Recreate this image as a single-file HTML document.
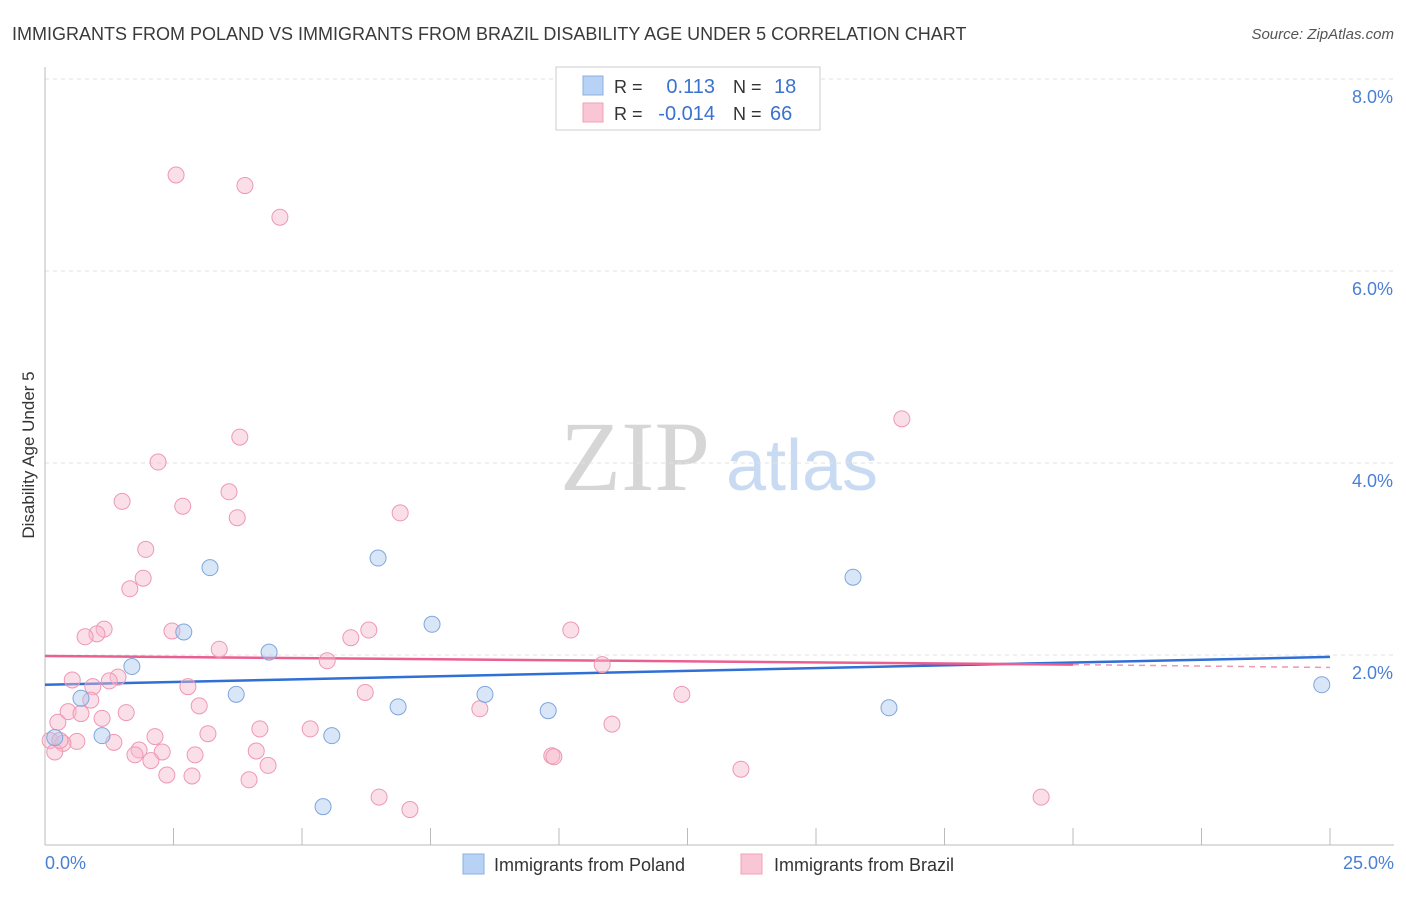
<!DOCTYPE html>
<html><head><meta charset="utf-8"><style>
body{margin:0;background:#fff;font-family:"Liberation Sans",sans-serif;}
svg text{font-family:"Liberation Sans",sans-serif;}
svg text.serif{font-family:"Liberation Serif",serif;}
</style></head><body>
<svg id="chart" width="1406" height="892" viewBox="0 0 1406 892" xmlns="http://www.w3.org/2000/svg">
<text x="12" y="40" font-size="18" fill="#3a3a3a">IMMIGRANTS FROM POLAND VS IMMIGRANTS FROM BRAZIL DISABILITY AGE UNDER 5 CORRELATION CHART</text>
<text x="1394" y="39" font-size="15" fill="#555" font-style="italic" text-anchor="end">Source: ZipAtlas.com</text>
<g>
<text class="serif" x="635" y="490" font-size="100" fill="#d6d6d6" text-anchor="middle">ZIP</text>
<text x="802" y="490" font-size="72" fill="#c9dbf2" text-anchor="middle">atlas</text>
</g>
<g id="grid"></g>
<g id="axes"></g>
<g id="lines"></g>
<g id="points"></g>
<text transform="translate(34,455) rotate(-90)" font-size="17" fill="#333" text-anchor="middle">Disability Age Under 5</text>
<text x="45" y="869" font-size="18" fill="#4a7fd4">0.0%</text>
<text x="1394" y="869" font-size="18" fill="#4a7fd4" text-anchor="end">25.0%</text>
<g>
<rect x="556" y="67" width="264" height="63" fill="#fff" stroke="#ccc"/>
<rect x="583" y="76" width="20" height="19" fill="#b8d2f5" stroke="#8ab0e0"/>
<rect x="583" y="103" width="20" height="19" fill="#f9c6d5" stroke="#f0a0b8"/>
<text x="614" y="93" font-size="18" fill="#333">R =</text>
<text x="715" y="93" font-size="20" fill="#3a72d0" text-anchor="end">0.113</text>
<text x="733" y="93" font-size="18" fill="#333">N =</text>
<text x="774" y="93" font-size="20" fill="#3a72d0">18</text>
<text x="614" y="120" font-size="18" fill="#333">R =</text>
<text x="715" y="120" font-size="20" fill="#3a72d0" text-anchor="end">-0.014</text>
<text x="733" y="120" font-size="18" fill="#333">N =</text>
<text x="770" y="120" font-size="20" fill="#3a72d0">66</text>
</g>
<g>
<rect x="463" y="854" width="21" height="20" fill="#b8d2f5" stroke="#8ab0e0"/>
<text x="494" y="871" font-size="18" fill="#333">Immigrants from Poland</text>
<rect x="741" y="854" width="21" height="20" fill="#f9c6d5" stroke="#f0a0b8"/>
<text x="774" y="871" font-size="18" fill="#333">Immigrants from Brazil</text>
</g>
</svg>
<script>
const yTicks=[2,4,6,8];
const yTickLabels=["2.0%","4.0%","6.0%","8.0%"];
const xTicks=[0,2.5,5,7.5,10,12.5,15,17.5,20,22.5,25];
const polandX=[0.70,1.11,1.69,2.70,3.21,3.72,4.36,5.41,5.58,6.48,6.87,7.53,8.56,9.79,15.72,16.42,24.84,0.19];
const polandY=[1.55,1.16,1.88,2.24,2.91,1.59,2.03,0.42,1.16,3.01,1.46,2.32,1.59,1.42,2.81,1.45,1.69,1.14];
const brazilX=[2.55,3.89,4.57,16.67,3.79,2.20,3.58,1.50,2.68,3.74,6.91,1.96,1.91,1.65,2.47,1.15,1.01,0.78,3.39,5.49,6.30,5.95,10.23,10.84,0.53,0.93,2.78,1.42,1.25,6.23,12.39,0.89,3.00,8.46,0.45,0.70,1.58,1.11,0.25,4.18,5.16,11.03,3.17,2.14,0.10,0.62,0.35,1.34,1.83,1.75,2.28,2.92,4.11,0.19,2.06,4.34,9.86,9.90,13.54,2.37,2.86,3.97,6.50,7.10,19.38,0.29];
const brazilY=[7.00,6.89,6.56,4.46,4.27,4.01,3.70,3.60,3.55,3.43,3.48,3.10,2.80,2.69,2.25,2.27,2.22,2.19,2.06,1.94,2.26,2.18,2.26,1.90,1.74,1.67,1.67,1.77,1.73,1.61,1.59,1.53,1.47,1.44,1.41,1.39,1.40,1.34,1.30,1.23,1.23,1.28,1.18,1.15,1.11,1.10,1.08,1.09,1.01,0.96,0.99,0.96,1.00,0.99,0.90,0.85,0.95,0.94,0.81,0.75,0.74,0.70,0.52,0.39,0.52,1.11];
const polandTrend=[[0,1.69],[25,1.98]];
const brazilTrend=[[0,1.99],[20,1.90]];
const brazilTrendExt=[[20,1.90],[25,1.87]];

const NS="http://www.w3.org/2000/svg";
const X=v=>45+v*51.4;
const Y=v=>847-v*96;
function mk(tag,attrs,parent){const e=document.createElementNS(NS,tag);for(const k in attrs)e.setAttribute(k,attrs[k]);parent.appendChild(e);return e;}
const grid=document.getElementById('grid'),axes=document.getElementById('axes'),lines=document.getElementById('lines'),pts=document.getElementById('points');
yTicks.forEach((t,i)=>{
 const l=mk('line',{x1:45,x2:1394,y1:Y(t),y2:Y(t),stroke:'#e2e2e2','stroke-dasharray':'4,4'},grid);
 
 
 const tx=mk('text',{x:1393,y:Y(t)+24,'font-size':18,fill:'#4a7fd4','text-anchor':'end'},grid);
 tx.textContent=yTickLabels[i];
 
 
});
const tg=mk('line',{x1:45,x2:1394,y1:79,y2:79,stroke:'#e2e2e2','stroke-dasharray':'4,4'},grid);
const ya=mk('line',{x1:45,x2:45,y1:67,y2:845,stroke:'#bbb'},axes);


const xa=mk('line',{x1:45,x2:1394,y1:845,y2:845,stroke:'#bbb'},axes);


xTicks.forEach(t=>{
 const l=mk('line',{x1:X(t),x2:X(t),y1:828,y2:845,stroke:'#bbb'},axes);
 
 
});
function line(p,color,name,dash){
 const l=mk('line',{x1:X(p[0][0]),y1:Y(p[0][1]),x2:X(p[1][0]),y2:Y(p[1][1]),stroke:color,'stroke-width':dash?1.5:2.5},lines);
 if(dash)l.setAttribute('stroke-dasharray','6,5');
 
 
}
function dots(xs,ys,fill,stroke,name){
 xs.forEach((x,i)=>{
  const c=mk('circle',{cx:X(x),cy:Y(ys[i]),r:8,fill:fill,'fill-opacity':0.45,stroke:stroke,'stroke-width':1},pts);
  
  
 });
}
dots(brazilX,brazilY,'#f7b8cb','#ee98b2','brazil-point');
dots(polandX,polandY,'#a9c8f0','#7fa6dc','poland-point');
line(polandTrend,'#2f6fd6','poland-trend-line',false);
line(brazilTrend,'#ea5f91','brazil-trend-line',false);
line(brazilTrendExt,'#ee98b2','brazil-trend-extension',true);
</script>
</body></html>
